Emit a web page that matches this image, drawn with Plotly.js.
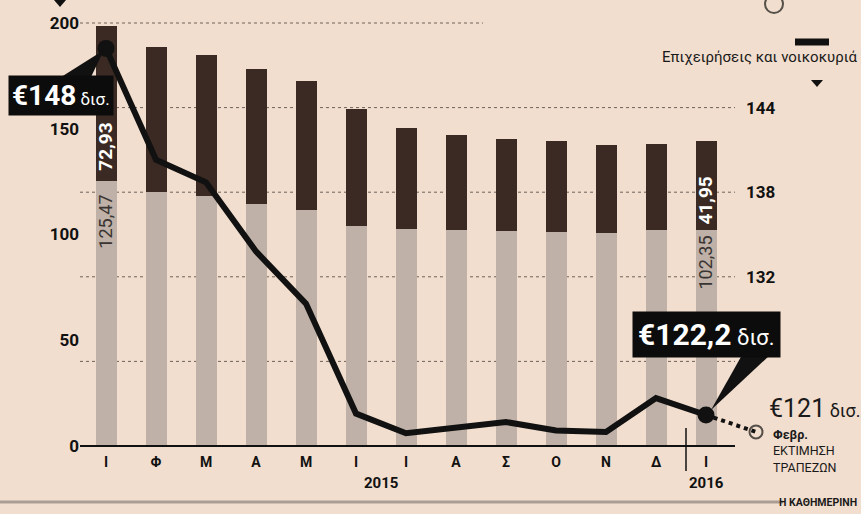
<!DOCTYPE html>
<html><head><meta charset="utf-8">
<script src="https://cdn.plot.ly/plotly-3.0.1.min.js"></script>
<style>html,body{margin:0;padding:0;background:#f2dece;} #chart{width:861px;height:514px;}</style>
</head><body><div id="chart"></div>
<script>
// ---------- data ----------
const months = ['Ι','Φ','Μ','Α','Μ','Ι','Ι','Α','Σ','Ο','Ν','Δ','Ι'];
const years = ['2015','2016'];
const yearFirstIndex = [0, 12];
const yearLastIndex = [11, 12];
const barLower = [125.47, 120.2, 118.2, 114.4, 111.6, 104.0, 102.6, 102.1, 101.7, 101.2, 100.7, 102.1, 102.35];
const barUpper = [72.93, 68.5, 66.7, 63.8, 61.0, 55.3, 47.8, 44.9, 43.5, 43.0, 41.6, 40.7, 41.95];
const deposits = [148.2, 140.3, 138.7, 133.8, 130.1, 122.3, 120.9, 121.3, 121.7, 121.1, 121.0, 123.4, 122.2];
const estimateMonth = 'Φεβρ.';
const estimateValue = 121.0;
const leftTicks = [0, 50, 100, 150, 200];
const rightTicks = [132, 138, 144];
const gridValues = [126, 132, 138, 144, 150];
const legendLabel = 'Επιχειρήσεις και νοικοκυριά';

// ---------- geometry helpers ----------
const L = 80, T = 23, PW = 691, PH = 423;
const XMIN = -0.52, XMAX = 13.3;
const Y2MIN = 120, Y2MAX = 150;
const xp = px => (px - L) / PW;
const yp = py => (T + PH - py) / PH;
const idx = months.map((_, i) => i);
const last = months.length - 1;
const comma = (v, d) => v.toFixed(d).replace('.', ',');

const FONT = 'Roboto, "Open Sans", sans-serif';
const INK = '#111111';

const traces = [
  { type: 'bar', x: idx, y: barLower, width: 0.42, marker: { color: '#bfb1a7' }, hoverinfo: 'skip' },
  { type: 'bar', x: idx, y: barUpper, width: 0.42, marker: { color: '#3b2a23' }, hoverinfo: 'skip' },
  { type: 'scatter', x: [last, months.length], y: [deposits[last], estimateValue], yaxis: 'y2',
    mode: 'lines+markers', cliponaxis: false,
    line: { color: INK, width: 4, dash: '4px,4px' },
    marker: { symbol: 'circle-open', size: [0, 13], color: INK, line: { width: 2, color: INK } } },
  { type: 'scatter', x: idx, y: deposits, yaxis: 'y2', mode: 'lines',
    line: { color: INK, width: 6 }, cliponaxis: false },
  { type: 'scatter', x: [0, last], y: [deposits[0], deposits[last]], yaxis: 'y2', mode: 'markers',
    marker: { color: INK, size: 17 }, cliponaxis: false }
];

const shapes = [];
gridValues.forEach(v => {
  shapes.push({ type: 'line', xref: 'paper', yref: 'paper', layer: 'below',
    x0: 0, x1: v === Y2MAX ? xp(483) : xp(735),
    y0: (v - Y2MIN) / (Y2MAX - Y2MIN), y1: (v - Y2MIN) / (Y2MAX - Y2MIN),
    line: { color: '#6e625b', width: 1, dash: 'dot' } });
});
// x axis line
shapes.push({ type: 'line', xref: 'paper', yref: 'paper', x0: 0, x1: xp(735), y0: 0, y1: 0,
  line: { color: INK, width: 2 } });
// year separator
shapes.push({ type: 'line', xref: 'paper', yref: 'paper', x0: xp(686), x1: xp(686), y0: yp(428), y1: yp(471),
  line: { color: INK, width: 1.5 } });
// bottom rule
shapes.push({ type: 'line', xref: 'paper', yref: 'paper', x0: xp(0), x1: xp(783), y0: yp(502), y1: yp(502),
  line: { color: '#a99d95', width: 3 } });
// legend dash
shapes.push({ type: 'line', xref: 'paper', yref: 'paper', x0: xp(795), x1: xp(829), y0: yp(42), y1: yp(42),
  line: { color: INK, width: 7 } });
// cut-off circle at top
shapes.push({ type: 'circle', xref: 'paper', yref: 'paper', x0: xp(765), x1: xp(783), y0: yp(13), y1: yp(-5),
  line: { color: '#555049', width: 2 } });
const tri = pts => 'M ' + pts.map(p => xp(p[0]) + ' ' + yp(p[1])).join(' L ') + ' Z';
// triangles
shapes.push({ type: 'path', xref: 'paper', yref: 'paper', path: tri([[54, 0], [66, 0], [60, 7]]),
  fillcolor: INK, line: { width: 0 } });
shapes.push({ type: 'path', xref: 'paper', yref: 'paper', path: tri([[811, 80], [823, 80], [817, 87]]),
  fillcolor: INK, line: { width: 0 } });
// callout pointers
shapes.push({ type: 'path', xref: 'paper', yref: 'paper', path: tri([[58, 79], [90, 79], [104, 50]]),
  fillcolor: INK, line: { width: 0 } });
shapes.push({ type: 'path', xref: 'paper', yref: 'paper', path: tri([[742, 355], [770, 355], [711, 410]]),
  fillcolor: INK, line: { width: 0 } });

const P = (px, py, extra) => Object.assign({ xref: 'paper', yref: 'paper', x: xp(px), y: yp(py),
  xanchor: 'center', yanchor: 'middle', showarrow: false }, extra);

const annotations = [
  // values inside first and last bars
  { xref: 'x', yref: 'y', x: 0, y: barLower[0], yshift: 8, xanchor: 'center', yanchor: 'bottom', textangle: -90,
    text: '<b>' + comma(barUpper[0], 2) + '</b>', showarrow: false, font: { family: FONT, size: 19, color: '#ffffff' } },
  { xref: 'x', yref: 'y', x: 0, y: barLower[0], yshift: -12, xanchor: 'center', yanchor: 'top', textangle: -90,
    text: comma(barLower[0], 2), showarrow: false, font: { family: FONT, size: 18, color: '#3a3532' } },
  { xref: 'x', yref: 'y', x: last, y: barLower[last], yshift: 3, xanchor: 'center', yanchor: 'bottom', textangle: -90,
    text: '<b>' + comma(barUpper[last], 2) + '</b>', showarrow: false, font: { family: FONT, size: 19, color: '#ffffff' } },
  { xref: 'x', yref: 'y', x: last, y: barLower[last], yshift: -4, xanchor: 'center', yanchor: 'top', textangle: -90,
    text: comma(barLower[last], 2), showarrow: false, font: { family: FONT, size: 18, color: '#3a3532' } },
  // callout boxes
  P(61, 95, { bgcolor: '#0c0c0c', borderpad: 3,
    text: '<b>€' + Math.round(deposits[0]) + '</b><span style="font-size:17px"> δισ.</span>',
    font: { family: FONT, size: 28, color: '#ffffff' } }),
  P(706, 334, { bgcolor: '#0c0c0c', borderpad: 5,
    text: '<b>€' + comma(deposits[last], 1) + '</b><span style="font-size:22px"> δισ.</span>',
    font: { family: FONT, size: 30, color: '#ffffff' } }),
  // estimate
  P(767, 408, { xanchor: 'left',
    text: '€' + estimateValue + '<span style="font-size:18px"> δισ.</span>',
    font: { family: FONT, size: 25, color: '#1a1a1a' } }),
  P(771, 425, { xanchor: 'left', yanchor: 'top', align: 'left',
    text: '<b>' + estimateMonth + '</b><br>ΕΚΤΙΜΗΣΗ<br>ΤΡΑΠΕΖΩΝ',
    font: { family: FONT, size: 12.5, color: '#1a1a1a' } }),
  // legend label
  P(859, 57, { xanchor: 'right', text: legendLabel, font: { family: FONT, size: 15, color: '#1a1a1a' } }),
  // source
  P(859, 502, { xanchor: 'right', text: '<b>Η ΚΑΘΗΜΕΡΙΝΗ</b>', font: { family: FONT, size: 10.5, color: '#1a1a1a' } })
];
years.forEach((yr, k) => {
  annotations.push({ xref: 'x', yref: 'paper', x: (yearFirstIndex[k] + yearLastIndex[k]) / 2, y: yp(483),
    xanchor: 'center', yanchor: 'middle',
    showarrow: false, text: '<b>' + yr + '</b>', font: { family: FONT, size: 15, color: INK } });
});

const layout = {
  width: 861, height: 514,
  margin: { l: 80, r: 90, t: 23, b: 68 },
  paper_bgcolor: '#f2dece', plot_bgcolor: 'rgba(0,0,0,0)',
  showlegend: false, barmode: 'stack', hovermode: false,
  xaxis: { range: [XMIN, XMAX], tickvals: idx, ticktext: months, showgrid: false, zeroline: false,
    showline: false, ticks: '', ticklabelstandoff: 6,
    tickfont: { family: FONT, size: 14, weight: 'bold', color: INK } },
  yaxis: { range: [0, 200], tickvals: leftTicks, showgrid: false, zeroline: false, showline: false, ticks: '',
    tickfont: { family: FONT, size: 17, weight: 'bold', color: INK } },
  yaxis2: { range: [Y2MIN, Y2MAX], overlaying: 'y', side: 'right', anchor: 'free', position: xp(745),
    tickvals: rightTicks, showgrid: false, zeroline: false, showline: false, ticks: '',
    tickfont: { family: FONT, size: 17, weight: 'bold', color: INK } },
  shapes: shapes,
  annotations: annotations
};

Plotly.newPlot('chart', traces, layout, { displayModeBar: false, staticPlot: true });
</script>
</body></html>
